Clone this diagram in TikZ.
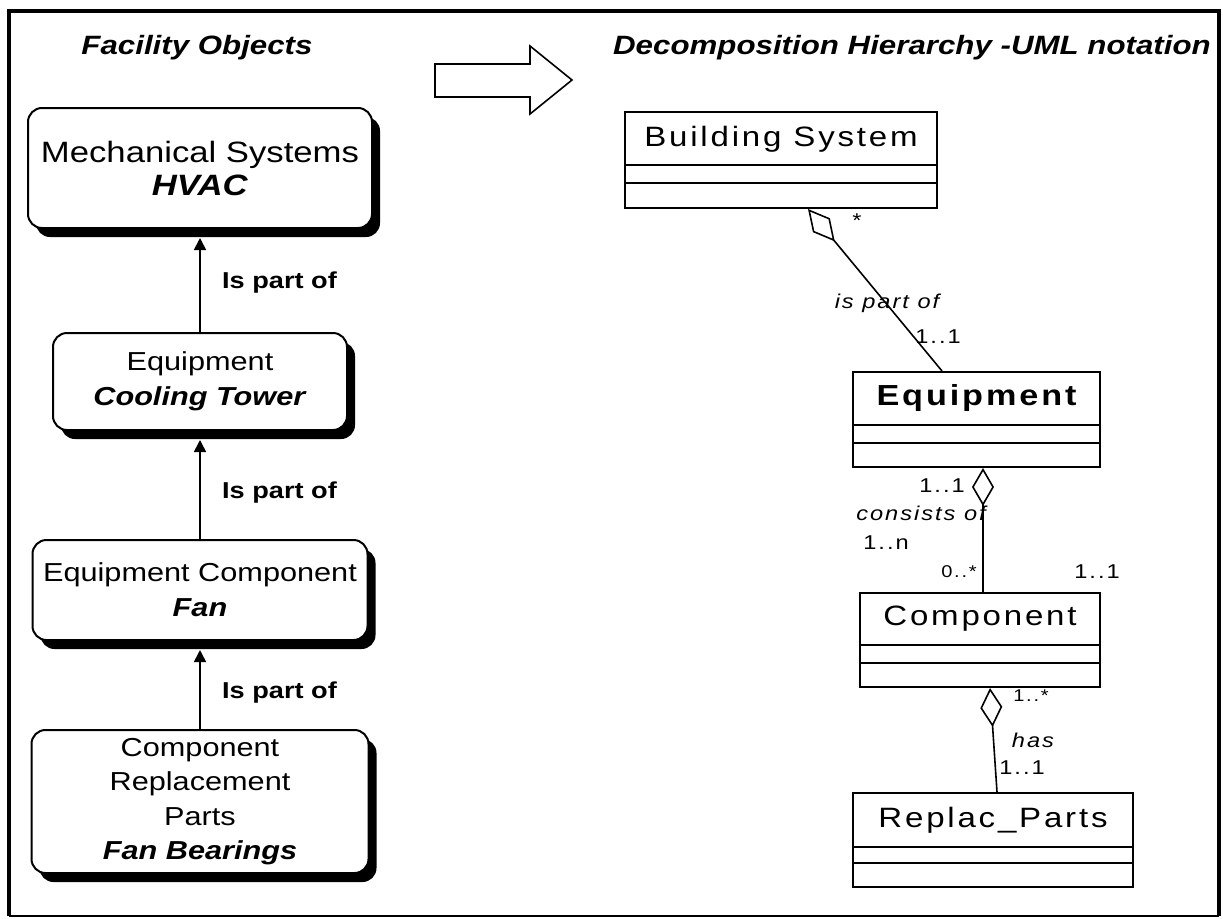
\documentclass[tikz,border=0pt]{standalone}
\usepackage{fontspec}
\setmainfont{Liberation Sans}[FakeStretch=1.18]
\newfontfamily\umlfont{Liberation Sans}[FakeStretch=1.18,LetterSpace=10]
\usetikzlibrary{arrows.meta,shadows}

\begin{document}
\begin{tikzpicture}[x=1pt,y=-1pt,
  facility/.style={draw, line width=2pt, rounded corners=14pt, fill=white,
    align=center, inner sep=0pt,
    drop shadow={shadow xshift=8pt, shadow yshift=-9pt, fill=black, opacity=1}},
  partof/.style={line width=1.6pt, -{Triangle[length=12pt,width=12pt]}},
  partlabel/.style={anchor=west, inner sep=0pt, font=\fontsize{23}{26}\selectfont\bfseries},
  title/.style={inner sep=0pt, font=\fontsize{26.5}{30}\selectfont\bfseries\itshape},
  umlclass/.style={draw, line width=2pt, inner sep=0pt, fill=white},
  umlname/.style={inner sep=0pt, font=\umlfont\fontsize{28}{30}\selectfont},
  umlline/.style={line width=1.6pt},
  aggr/.style={umlline, {Diamond[open, length=#1, width=22pt, line width=1.6pt]}-},
  mult/.style={inner sep=0pt, font=\umlfont\fontsize{20}{22}\selectfont},
  role/.style={inner sep=0pt, font=\umlfont\fontsize{20}{22}\selectfont\itshape},
]
\useasboundingbox (0,0) rectangle (1223,918);

% outer frame
\draw[line width=4.5pt] (9,916) -- (9,11) -- (1219,11) -- (1219,916);
\draw[line width=1.5pt] (9,916) -- (1219,916);

% headings and the hollow arrow between them
\node[title] (lefttitle) at (197,48) {Facility Objects};
\node[title, anchor=east] (righttitle) at (1211,48) {Decomposition Hierarchy -UML notation};
\draw[line width=1.6pt, fill=white]
  (435,64) -- (530,64) -- (530,46) -- (572,80) -- (530,114) -- (530,97) -- (435,97) -- cycle;

% facility objects
\node[facility, minimum width=344pt, minimum height=120pt,
      font=\fontsize{29.4}{33}\selectfont] (mech) at (200,168)
  {Mechanical Systems\\\textbf{\textit{HVAC}}};
\node[facility, minimum width=294pt, minimum height=97pt,
      font=\fontsize{26}{35}\selectfont] (equip) at (200,381.5)
  {Equipment\\\textbf{\textit{Cooling Tower}}};
\node[facility, minimum width=335pt, minimum height=100pt,
      font=\fontsize{26}{35}\selectfont] (eqcomp) at (200,590)
  {Equipment Component\\\textbf{\textit{Fan}}};
\node[facility, minimum width=337pt, minimum height=143pt,
      font=\fontsize{26}{34.5}\selectfont] (parts) at (200,801.5)
  {Component\\Replacement\\Parts\\\textbf{\textit{Fan Bearings}}};

\draw[partof] (equip.north) -- ([yshift=-9pt]mech.south);
\draw[partof] (eqcomp.north) -- ([yshift=-9pt]equip.south);
\draw[partof] (parts.north) -- ([yshift=-9pt]eqcomp.south);
\node[partlabel] (lbl1) at (222,283) {Is part of};
\node[partlabel] (lbl2) at (222,493) {Is part of};
\node[partlabel] (lbl3) at (222,693) {Is part of};

% UML classes
\node[umlclass, minimum width=312pt, minimum height=96pt] (bs) at (781,160) {};
\draw[line width=2pt] (bs.west |- 0,165) -- (bs.east |- 0,165);
\draw[line width=2pt] (bs.west |- 0,183) -- (bs.east |- 0,183);
\node[umlname] (bsname) at (781,139) {Building System};

\node[umlclass, minimum width=247pt, minimum height=95pt] (eq) at (976.5,419.5) {};
\draw[line width=2pt] (eq.west |- 0,425) -- (eq.east |- 0,425);
\draw[line width=2pt] (eq.west |- 0,443) -- (eq.east |- 0,443);
\node[umlname, font=\umlfont\fontsize{29}{30}\selectfont\bfseries] (eqname) at (976.5,398) {Equipment};

\node[umlclass, minimum width=240pt, minimum height=94pt] (comp) at (980,640) {};
\draw[line width=2pt] (comp.west |- 0,645) -- (comp.east |- 0,645);
\draw[line width=2pt] (comp.west |- 0,663) -- (comp.east |- 0,663);
\node[umlname] (compname) at (980,619) {Component};

\node[umlclass, minimum width=280pt, minimum height=94pt] (rp) at (993,840) {};
\draw[line width=2pt] (rp.west |- 0,847) -- (rp.east |- 0,847);
\draw[line width=2pt] (rp.west |- 0,863) -- (rp.east |- 0,863);
\node[umlname] (rpname) at (993,820) {Replac\_Parts};

% aggregations
\draw[aggr=42pt] ([xshift=27pt]bs.south) -- ([xshift=-34.5pt]eq.north);
\draw[aggr=38pt] ([xshift=6.5pt]eq.south) -- ([xshift=6.5pt]eq.south |- comp.north);
\draw[aggr=39pt] ([xshift=10pt]comp.south) -- ([xshift=4pt]rp.north);

% roles and multiplicities
\node[mult] (m1) at (857,221) {*};
\node[role] (r1) at (887,303) {is part of};
\node[mult] (m2) at (938,337) {1..1};
\node[mult] (m3) at (942,486) {1..1};
\node[role] (r2) at (921,513) {consists of};
\node[mult] (m4) at (886,543) {1..n};
\node[mult, font=\umlfont\fontsize{17}{20}\selectfont] (m5) at (959,572) {0..*};
\node[mult] (m6) at (1097,572) {1..1};
\node[mult, font=\umlfont\fontsize{17}{20}\selectfont] (m7) at (1031,696) {1..*};
\node[role] (r3) at (1033,740) {has};
\node[mult] (m8) at (1022,768) {1..1};
\end{tikzpicture}
\end{document}
